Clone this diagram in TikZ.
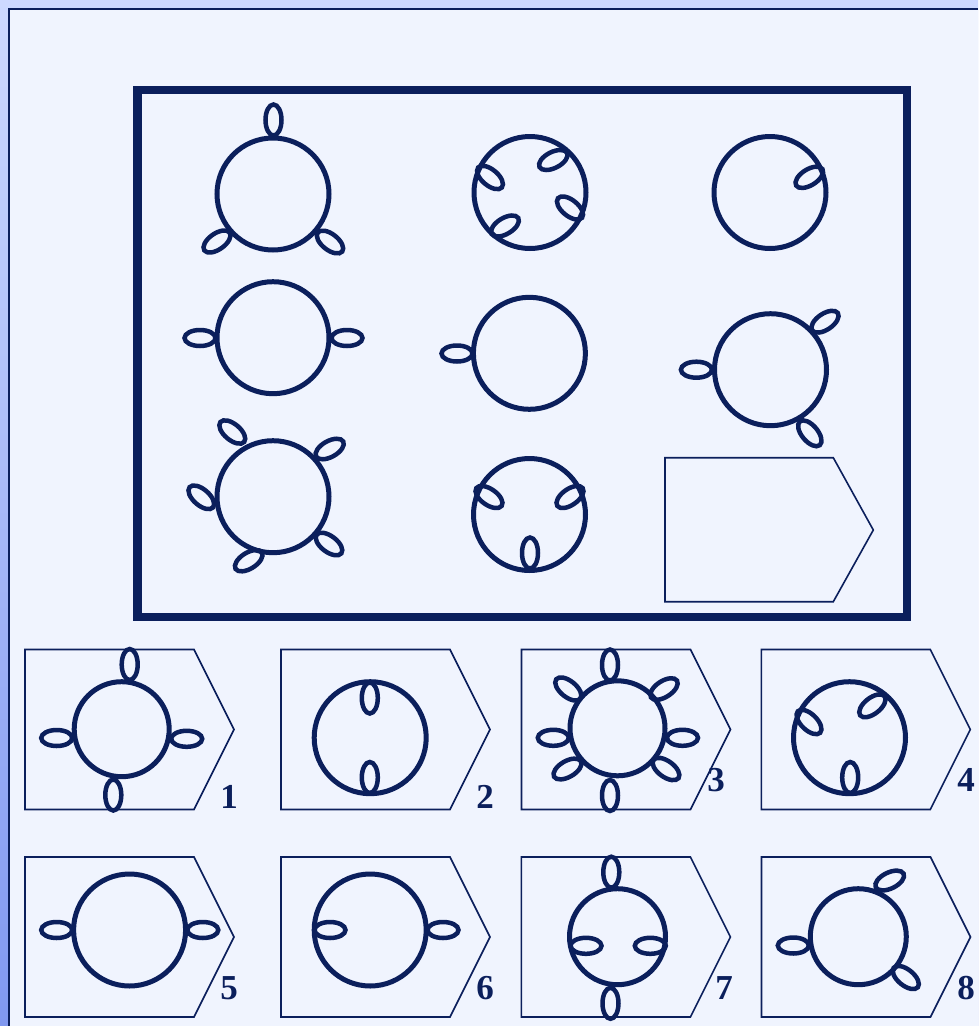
\documentclass[tikz,border=0pt]{standalone}
\usepackage{fontspec}
\setmainfont{Liberation Serif}
\usepackage{xcolor}
\usepackage{tikz}

\definecolor{navy}{RGB}{11,31,92}
\definecolor{paper}{RGB}{240,244,254}
\definecolor{bandtop}{RGB}{205,217,255}
\definecolor{bandbot}{RGB}{128,152,240}

\begin{document}
\begin{tikzpicture}[x=1pt, y=-1pt,
    ring/.style={draw=navy, line width=5pt},
    petal/.style={draw=navy, line width=4.5pt},
    panel/.style={draw=navy, line width=1.6pt, line join=miter},
    every node/.style={font=\fontsize{35}{35}\selectfont\bfseries, text=navy, inner sep=0pt}]

    % Page: 978x1026 px, 1px = 1pt, y grows downwards
    \useasboundingbox (0,0) rectangle (978,1026);
    \shade[top color=bandtop, bottom color=bandbot] (0,0) rectangle (978,1026);
    \fill[paper] (9,9) rectangle (978,1026);
    \draw[navy, line width=2pt] (9,1026) -- (9,9) -- (978,9);

    % Question frame
    \draw[navy, line width=8.5pt] (137.5,90) rectangle (907,617);

    % Row 1, left: three petals outside
    \draw[ring] (273,194) circle [radius=56];
    \foreach \px/\py/\pr in {273.5/120/90, 217/241.5/35, 330/242/-38}
        \draw[petal, rotate around={\pr:(\px,\py)}] (\px,\py) ellipse [x radius=15.5, y radius=8];
    % Row 1, middle: four petals inside
    \draw[ring] (530,192.5) circle [radius=56];
    \foreach \px/\py/\pr in {553.3/160/27, 490/177.5/-40, 570/208/-39, 505/226/31}
        \draw[petal, rotate around={\pr:(\px,\py)}] (\px,\py) ellipse [x radius=15.5, y radius=8];
    % Row 1, right: one petal inside
    \draw[ring] (770,192.5) circle [radius=56];
    \foreach \px/\py/\pr in {809.3/177.3/32}
        \draw[petal, rotate around={\pr:(\px,\py)}] (\px,\py) ellipse [x radius=15.5, y radius=8];

    % Row 2, left: two petals outside
    \draw[ring] (273,337.7) circle [radius=56];
    \foreach \px/\py/\pr in {200/338/0, 347/338/0}
        \draw[petal, rotate around={\pr:(\px,\py)}] (\px,\py) ellipse [x radius=15.5, y radius=8];
    % Row 2, middle: one petal outside
    \draw[ring] (529.4,353.3) circle [radius=56];
    \foreach \px/\py/\pr in {457/353.5/0}
        \draw[petal, rotate around={\pr:(\px,\py)}] (\px,\py) ellipse [x radius=15.5, y radius=8];
    % Row 2, right: three petals outside
    \draw[ring] (770.5,369.7) circle [radius=56];
    \foreach \px/\py/\pr in {696.4/369.7/0, 825/321.7/34, 809.8/433.3/-50}
        \draw[petal, rotate around={\pr:(\px,\py)}] (\px,\py) ellipse [x radius=15.5, y radius=8];

    % Row 3, left: five petals outside
    \draw[ring] (273,496.7) circle [radius=56];
    \foreach \px/\py/\pr in {232.3/432/-40, 329.7/449/29, 201.3/497.3/-41, 248.7/560.7/32, 329/544/-37}
        \draw[petal, rotate around={\pr:(\px,\py)}] (\px,\py) ellipse [x radius=15.5, y radius=8];
    % Row 3, middle: three petals inside
    \draw[ring] (529.5,514.5) circle [radius=56];
    \foreach \px/\py/\pr in {489/497/-35, 570/497/35, 530/553/90}
        \draw[petal, rotate around={\pr:(\px,\py)}] (\px,\py) ellipse [x radius=15.5, y radius=8];
    % Row 3, right: empty answer slot
    \draw[panel] (665,457.7) -- (833.3,457.7) -- (873.3,530) -- (833.3,601.7) -- (665,601.7) -- cycle;

    % Answer panels
    \foreach \ox/\oy in {25/649.5, 281/649.5, 521.5/649.5, 761.3/649.5, 25/857, 281/857, 521.4/857, 761.5/857}
        \draw[panel] (\ox,\oy) -- ++(169,0) -- ++(40,80) -- ++(-40,80) -- ++(-169,0) -- cycle;

    % Option 1
    \draw[ring] (121.7,729.2) circle [radius=47.5];
    \foreach \px/\py/\pr in {129.7/664.5/90, 113.3/795/90, 56.7/738/0, 186.7/738.8/0}
        \draw[petal, rotate around={\pr:(\px,\py)}] (\px,\py) ellipse [x radius=15.5, y radius=8];
    % Option 2
    \draw[ring] (370.2,737.7) circle [radius=56];
    \foreach \px/\py/\pr in {369.8/698/90, 369.8/777.5/90}
        \draw[petal, rotate around={\pr:(\px,\py)}] (\px,\py) ellipse [x radius=15.5, y radius=8];
    % Option 3
    \draw[ring] (617.5,728.3) circle [radius=47.5];
    \foreach \px/\py/\pr in {610/665/90, 610/795.5/90, 553.3/737.8/0, 682.5/737.8/0,
                             568.3/689/-39, 664/689/33, 567.5/769/30, 666/769/-36}
        \draw[petal, rotate around={\pr:(\px,\py)}] (\px,\py) ellipse [x radius=15.5, y radius=8];
    % Option 4
    \draw[ring] (849.5,737.7) circle [radius=56];
    \foreach \px/\py/\pr in {809/722/-44, 872.4/705.8/38, 850.2/777.5/90}
        \draw[petal, rotate around={\pr:(\px,\py)}] (\px,\py) ellipse [x radius=15.5, y radius=8];
    % Option 5
    \draw[ring] (129.6,930) circle [radius=56];
    \foreach \px/\py/\pr in {56.7/930/0, 202.8/930/0}
        \draw[petal, rotate around={\pr:(\px,\py)}] (\px,\py) ellipse [x radius=15.5, y radius=8];
    % Option 6
    \draw[ring] (370.2,930) circle [radius=56];
    \foreach \px/\py/\pr in {330/930/0, 443/930/0}
        \draw[petal, rotate around={\pr:(\px,\py)}] (\px,\py) ellipse [x radius=15.5, y radius=8];
    % Option 7
    \draw[ring] (617.5,936.7) circle [radius=48];
    \foreach \px/\py/\pr in {611.3/872.2/90, 610.5/1003.3/90, 586/945.8/0, 650.3/945.8/0}
        \draw[petal, rotate around={\pr:(\px,\py)}] (\px,\py) ellipse [x radius=15.5, y radius=8];
    % Option 8
    \draw[ring] (858.3,936.7) circle [radius=48];
    \foreach \px/\py/\pr in {793.3/945.5/0, 889.7/880.5/26, 905.8/977.5/-39}
        \draw[petal, rotate around={\pr:(\px,\py)}] (\px,\py) ellipse [x radius=15.5, y radius=8];

    % Option numbers
    \node (lab1) at (229,797) {1};
    \node (lab2) at (485,797) {2};
    \node (lab3) at (716,780) {3};
    \node (lab4) at (966,780) {4};
    \node (lab5) at (229,988) {5};
    \node (lab6) at (485,988) {6};
    \node (lab7) at (724,988) {7};
    \node (lab8) at (966,988) {8};
\end{tikzpicture}
\end{document}
